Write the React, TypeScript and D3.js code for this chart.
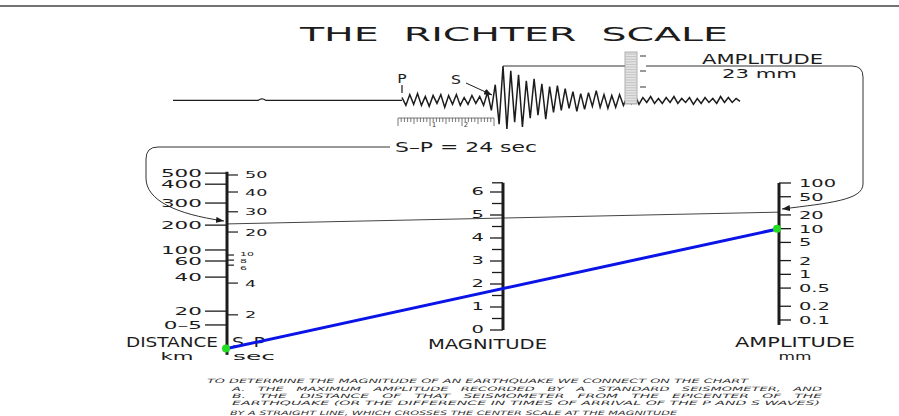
import React from "react";
import * as d3 from "d3";

// left scale: epicentral distance (km) and S-P interval (sec), placed by the
// distance correction (-log A0) that the chart encodes
const distanceLabels = ["500", "400", "300", "200", "100", "60", "40", "20", "0–5"];
const distanceCorrection = [4.62, 4.38, 3.97, 3.49, 2.95, 2.71, 2.36, 1.62, 1.32];
const spSeconds = [50, 40, 30, 20, 10, 8, 6, 4, 2];
const spCorrection = [4.58, 4.21, 3.78, 3.34, 2.84, 2.73, 2.62, 2.23, 1.54];

// middle scale
const magnitudeTicks = [0, 1, 2, 3, 4, 5, 6];
const magnitudeMinor = [0.5, 1.5, 2.5, 3.5, 4.5, 5.5, 6.4];

// right scale
const amplitudeTicks = [100, 50, 20, 10, 5, 2, 1, 0.5, 0.2, 0.1];

// worked example printed on the sheet
const exampleSP = 24;
const exampleAmplitude = 23;

// blue line drawn over the chart
const blueAmplitude = 10;
const blueMagnitude = 1.8;

// seismogram pen offsets after the P arrival
const trace = [
  3, -5, 6, -4, 7, -5, 4, -6, 5, -3, 6, -7, 5, -4, 6, -5, 3, -4, 5, -3, 4, -5, 8,
  -10, 16, -24, 35, -29, 30, -22, 26, -27,
  20, -18, 22, -15, 17, -19, 14, -12, 15,
  -10, 12, -8, 9, -11, 7, -9, 8, -6, 10, -7, 6, -8, 5, -7, 6, -5,
  4, -3, 5, -4, 3, -2, 4, -3, 2, -3, 3, -2, 4, -3, 2, -2, 3, -4, 2, -3, 3, -2, 2, -3, 4, -2, 3, -2, 2, -1,
];

const notes = [
  "TO DETERMINE THE MAGNITUDE OF AN EARTHQUAKE WE CONNECT ON THE CHART",
  "A.   THE   MAXIMUM   AMPLITUDE   RECORDED   BY   A   STANDARD   SEISMOMETER,   AND",
  "B.   THE   DISTANCE   OF   THAT   SEISMOMETER   FROM   THE   EPICENTER   OF   THE",
  "EARTHQUAKE (OR THE DIFFERENCE IN TIMES OF ARRIVAL OF THE P AND S WAVES)",
  "BY A STRAIGHT LINE, WHICH CROSSES THE CENTER SCALE AT THE MAGNITUDE",
];

const ink = "#1c1c1c";
const font = "DejaVu Sans, sans-serif";

function Lbl({ x, y, size, sx = 1.9, anchor = "start", children }: any) {
  return (
    <text
      transform={`translate(${x},${y}) scale(${sx},1)`}
      fontSize={size}
      textAnchor={anchor}
      fill={ink}
      fontFamily={font}
    >
      {children}
    </text>
  );
}

function Fit({ x, y, size, len, anchor = "start", italic = false, fill = ink, children }: any) {
  return (
    <text
      x={x}
      y={y}
      fontSize={size}
      textAnchor={anchor}
      textLength={len}
      lengthAdjust="spacingAndGlyphs"
      fill={fill}
      fontFamily={font}
      fontStyle={italic ? "italic" : "normal"}
      style={{ whiteSpace: "pre" }}
    >
      {children}
    </text>
  );
}

export default function App() {
  const W = 899;
  const H = 416;
  const xDist = 227;
  const xMag = 503;
  const xAmp = 779;

  const yMag = d3.scaleLinear().domain([0, 6]).range([330, 192]);
  const yAmp = d3.scaleLog().domain([0.1, 100]).range([320, 183]);
  // nomogram: the middle reading sits halfway between the outer two
  const yLeft = (c: number) => 2 * yMag(c) - yAmp(1);
  const spToCorrection = d3.scaleLinear().domain(spSeconds).range(spCorrection);

  const xTrace = d3.scaleLinear().domain([0, trace.length - 1]).range([402, 740]);
  const yTrace = d3.scaleLinear().domain([-30, 35]).range([130, 66]);
  const tracePath = d3
    .line<number>()
    .x((d, i) => xTrace(i))
    .y(d => yTrace(d))(trace);
  const peakIdx = d3.maxIndex(trace);
  const base = yTrace(0);

  const secScale = d3.scaleLinear().domain([0, 30]).range([398, 494]);
  const rulerLines = d3.range(54, 104, 2.6);

  const exY1 = yLeft(spToCorrection(exampleSP));
  const exY2 = yAmp(exampleAmplitude);
  const blueY1 = 2 * yMag(blueMagnitude) - yAmp(blueAmplitude);
  const blueY2 = yAmp(blueAmplitude);

  const noteLayout = [
    { x: 207, len: 541, y: 382.5 },
    { x: 232, len: 590, y: 391 },
    { x: 232, len: 590, y: 398 },
    { x: 232, len: 588, y: 405 },
    { x: 230, len: 447, y: 414.5 },
  ];

  // the three crowded S-P labels are nudged apart so they stay legible
  const crowdShift: Record<number, number> = { 10: -1.2, 8: 1, 6: 3.2 };

  return (
    <svg
      width={W}
      height={H}
      style={{ position: "absolute", left: 0, top: 0, background: "#fff" }}
    >
      <defs>
        <marker id="arr" markerWidth="8" markerHeight="6" refX="8" refY="3" orient="auto" markerUnits="userSpaceOnUse">
          <path d="M0,0 L8,3 L0,6 z" fill={ink} />
        </marker>
      </defs>
      <rect width={W} height={H} fill="#fff" />
      <line x1={0} x2={W} y1={6} y2={6} stroke="#444" strokeWidth={1.5} />

      {/* title */}
      <text
        x={514}
        y={41}
        fontSize={20}
        textAnchor="middle"
        textLength={428}
        lengthAdjust="spacingAndGlyphs"
        fill={ink}
        fontFamily={font}
        style={{ whiteSpace: "pre" }}
      >
        THE  RICHTER  SCALE
      </text>

      {/* seismogram */}
      <path d={`M173,${base} H258 q4,-3 8,0 H402`} fill="none" stroke={ink} strokeWidth={1.2} />
      <path d={tracePath || ""} fill="none" stroke={ink} strokeWidth={1.5} />
      <line x1={402} x2={402} y1={85} y2={93} stroke={ink} strokeWidth={1.2} />
      <Lbl x={402} y={83} size={13} sx={1.2} anchor="middle">P</Lbl>
      <Lbl x={456} y={84} size={13} sx={1.2} anchor="middle">S</Lbl>
      <line x1={466} y1={83} x2={492} y2={95} stroke={ink} strokeWidth={1} markerEnd="url(#arr)" />

      {/* time ruler */}
      <line x1={secScale(0)} x2={secScale(30)} y1={118} y2={118} stroke="#555" strokeWidth={0.8} />
      {d3.range(0, 31).map(s => (
        <line
          key={s}
          x1={secScale(s)}
          x2={secScale(s)}
          y1={118}
          y2={s % 10 === 0 ? 126 : s % 5 === 0 ? 124 : 122}
          stroke="#555"
          strokeWidth={0.8}
        />
      ))}
      {[10, 20].map((s, i) => (
        <text key={s} x={secScale(s) + 4} y={127} fontSize={7} fill="#444" fontFamily={font} textAnchor="middle">
          {i + 1}
        </text>
      ))}

      {/* amplitude ruler on the record */}
      <line x1={xTrace(peakIdx)} x2={625} y1={yTrace(trace[peakIdx])} y2={yTrace(trace[peakIdx])} stroke="#333" strokeWidth={1} />
      <rect x={625} y={52} width={12} height={52} fill="#e4e4e4" stroke="#999" strokeWidth={0.8} />
      {rulerLines.map(y => (
        <line key={y} x1={626} x2={636} y1={y} y2={y} stroke="#aaa" strokeWidth={0.6} />
      ))}
      {[56, 71, 87].map(y => (
        <line key={y} x1={640} x2={646} y1={y} y2={y} stroke="#555" strokeWidth={1.2} />
      ))}

      {/* amplitude bracket */}
      <Fit x={702} y={64} size={14} len={121}>AMPLITUDE</Fit>
      <Fit x={722} y={78} size={13} len={75}>23 mm</Fit>
      <path
        d="M646,66 H852 Q863,66 863,77 V184 C863,200 830,203 782,209"
        fill="none"
        stroke="#333"
        strokeWidth={1}
        markerEnd="url(#arr)"
      />

      {/* S-P bracket */}
      <Fit x={395} y={152} size={14} len={142}>S–P = 24 sec</Fit>
      <path
        d="M390,147 H158 Q146,147 146,159 V178 C146,200 175,214 224,221"
        fill="none"
        stroke="#333"
        strokeWidth={1}
        markerEnd="url(#arr)"
      />

      {/* worked example line */}
      <line x1={xDist} y1={exY1} x2={xAmp} y2={exY2} stroke="#444" strokeWidth={1} />

      {/* left scale */}
      <line x1={xDist} x2={xDist} y1={yLeft(4.65)} y2={yLeft(0.67)} stroke={ink} strokeWidth={3} />
      {distanceLabels.map((d, i) => {
        const y = yLeft(distanceCorrection[i]);
        return (
          <g key={d}>
            <line x1={205} x2={xDist} y1={y} y2={y} stroke={ink} strokeWidth={1.3} />
            <Lbl x={202} y={y + 3.8} size={10.5} sx={2.05} anchor="end">{d}</Lbl>
          </g>
        );
      })}
      {spSeconds.map((s, i) => {
        const y = yLeft(spCorrection[i]);
        const small = s in crowdShift;
        return (
          <g key={s}>
            <line x1={xDist} x2={small ? 234 : 238} y1={y} y2={y} stroke={ink} strokeWidth={1.2} />
            <Lbl
              x={small ? 240 : 245}
              y={y + (small ? 2 + crowdShift[s] : 3.5)}
              size={small ? 5.2 : 9.5}
              sx={small ? 2.1 : 1.85}
            >
              {String(s)}
            </Lbl>
          </g>
        );
      })}
      <Fit x={126} y={347} size={14} len={92}>DISTANCE</Fit>
      <Fit x={177} y={360} size={11} len={33} anchor="middle">km</Fit>
      <Fit x={232} y={347} size={14} len={33}>S–P</Fit>
      <Fit x={233} y={360} size={11} len={42}>sec</Fit>

      {/* middle scale */}
      <line x1={xMag} x2={xMag} y1={yMag(6.4)} y2={yMag(0)} stroke={ink} strokeWidth={3} />
      {magnitudeTicks.map(m => (
        <g key={m}>
          <line x1={490} x2={xMag} y1={yMag(m)} y2={yMag(m)} stroke={ink} strokeWidth={1.3} />
          <Lbl x={484} y={yMag(m) + 3.3} size={10} sx={1.95} anchor="end">{String(m)}</Lbl>
        </g>
      ))}
      {magnitudeMinor.map(m => (
        <line key={m} x1={492} x2={xMag} y1={yMag(m)} y2={yMag(m)} stroke={ink} strokeWidth={1.3} />
      ))}
      <Fit x={428} y={348.5} size={13.5} len={119}>MAGNITUDE</Fit>

      {/* right scale */}
      <line x1={xAmp} x2={xAmp} y1={yAmp(100)} y2={yAmp(0.078)} stroke={ink} strokeWidth={3} />
      {amplitudeTicks.map(a => (
        <g key={a}>
          <line x1={xAmp} x2={791} y1={yAmp(a)} y2={yAmp(a)} stroke={ink} strokeWidth={1.3} />
          <Lbl x={799} y={yAmp(a) + 4} size={10.5} sx={1.85}>{String(a)}</Lbl>
        </g>
      ))}
      <Fit x={735} y={347} size={14} len={120}>AMPLITUDE</Fit>
      <Fit x={795} y={360} size={11} len={33} anchor="middle">mm</Fit>

      {/* notes */}
      {notes.map((t, i) => (
        <Fit key={i} x={noteLayout[i].x} y={noteLayout[i].y} size={6} len={noteLayout[i].len} italic fill="#333">
          {t}
        </Fit>
      ))}

      {/* reading line */}
      <line x1={xDist} y1={blueY1} x2={xAmp} y2={blueY2} stroke="#0a14e6" strokeWidth={3} />
      <circle cx={xDist - 1} cy={blueY1} r={4} fill="#22dd22" />
      <circle cx={xAmp - 2} cy={blueY2} r={4} fill="#22dd22" />
    </svg>
  );
}
